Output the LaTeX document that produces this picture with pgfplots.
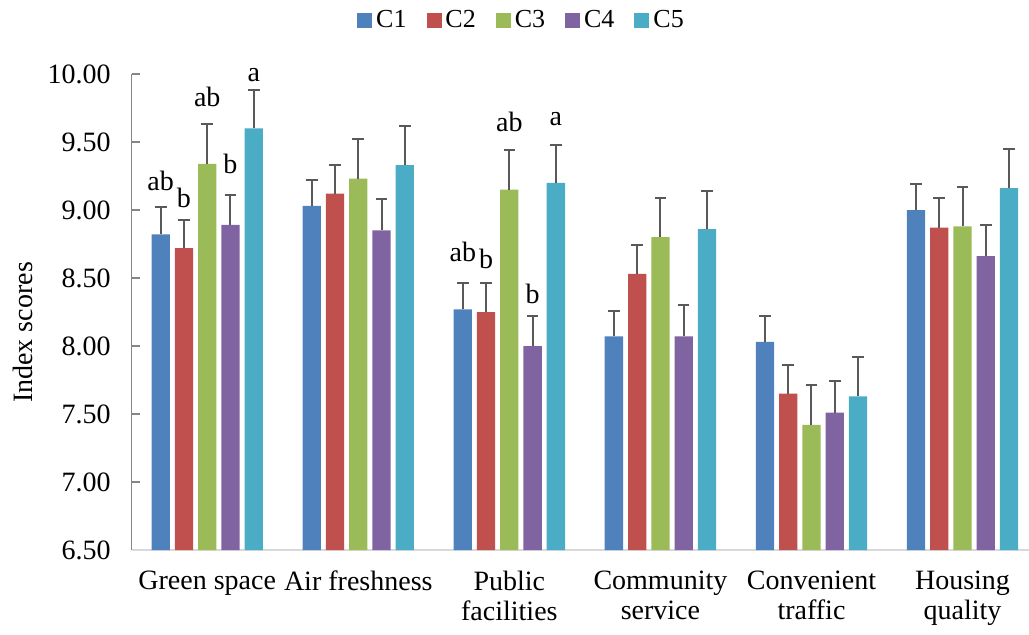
\documentclass[border=0pt]{standalone}
\usepackage{pgfplots}
\pgfplotsset{compat=1.18}
\usepackage{fontspec}
\setmainfont{Liberation Serif}

\definecolor{cA}{HTML}{4F81BD}
\definecolor{cB}{HTML}{C0504D}
\definecolor{cC}{HTML}{9BBB59}
\definecolor{cD}{HTML}{8064A2}
\definecolor{cE}{HTML}{4BACC6}
\definecolor{errgray}{HTML}{595959}
\definecolor{yaxisgray}{HTML}{868686}
\definecolor{xaxisgray}{HTML}{D9D9D9}

\begin{document}
\begin{tikzpicture}
\begin{axis}[
    width=448.65bp, height=238bp, scale only axis,
    ybar, bar width=0.121,
    xmin=-0.5, xmax=5.44,
    ymin=6.5, ymax=10,
    ytick={6.5,7,7.5,8,8.5,9,9.5,10},
    xtick={0,1,2,3,4,5},
    xticklabels={Green space, Air freshness, {Public\\facilities}, {Community\\service}, {Convenient\\traffic}, {Housing\\quality}},
    axis x line*=bottom, axis y line*=left,
    axis line style={-},
    x axis line style={xaxisgray, line width=1bp},
    y axis line style={yaxisgray, line width=0.8bp},
    x tick style={draw=none},
    y tick style={yaxisgray, line width=0.8bp},
    tick align=inside, major tick length=4bp,
    /pgf/number format/assume math mode=true,
    y tick label style={/pgf/number format/fixed, /pgf/number format/fixed zerofill, /pgf/number format/precision=2, font=\fontsize{14bp}{16bp}\selectfont, xshift=-7bp},
    x tick label style={align=center, font=\fontsize{14bp}{15bp}\selectfont, yshift=-7bp},
    ylabel={Index scores},
    ylabel style={at={(rel axis cs:-0.1217,0.457)}, anchor=center, font=\fontsize{14bp}{16bp}\selectfont},
    error bars/y dir=plus, error bars/y explicit,
    error bars/error bar style={errgray, line width=1bp},
    error bars/error mark options={rotate=90, errgray, line width=1bp, mark size=2.9bp},
    legend style={at={(rel axis cs:0.4355,1.1134)}, anchor=center, draw=none, fill=none,
        legend columns=-1, font=\fontsize{13bp}{15bp}\selectfont,
        /tikz/every even column/.append style={column sep=8bp}},
    legend image code/.code={\fill[#1] (0bp,-3.75bp) rectangle (7.5bp,3.75bp);},
    clip=false,
]
% C1
\addplot[fill=cA, draw=none, bar shift=-0.308] coordinates {
    (0,8.82) +- (0,0.20) (1,9.03) +- (0,0.19) (2,8.27) +- (0,0.19)
    (3,8.07) +- (0,0.19) (4,8.03) +- (0,0.19) (5,9.00) +- (0,0.19)};
% C2
\addplot[fill=cB, draw=none, bar shift=-0.154] coordinates {
    (0,8.72) +- (0,0.21) (1,9.12) +- (0,0.21) (2,8.25) +- (0,0.21)
    (3,8.53) +- (0,0.21) (4,7.65) +- (0,0.21) (5,8.87) +- (0,0.22)};
% C3
\addplot[fill=cC, draw=none, bar shift=0] coordinates {
    (0,9.34) +- (0,0.29) (1,9.23) +- (0,0.29) (2,9.15) +- (0,0.29)
    (3,8.80) +- (0,0.29) (4,7.42) +- (0,0.29) (5,8.88) +- (0,0.29)};
% C4
\addplot[fill=cD, draw=none, bar shift=0.154] coordinates {
    (0,8.89) +- (0,0.22) (1,8.85) +- (0,0.23) (2,8.00) +- (0,0.22)
    (3,8.07) +- (0,0.23) (4,7.51) +- (0,0.23) (5,8.66) +- (0,0.23)};
% C5
\addplot[fill=cE, draw=none, bar shift=0.308] coordinates {
    (0,9.60) +- (0,0.28) (1,9.33) +- (0,0.29) (2,9.20) +- (0,0.28)
    (3,8.86) +- (0,0.28) (4,7.63) +- (0,0.29) (5,9.16) +- (0,0.29)};
\legend{C1,C2,C3,C4,C5}

% significance letters
\begin{scope}[every node/.style={anchor=base, inner sep=0pt, font=\fontsize{14bp}{16bp}\selectfont}]
\node at (axis cs:-0.308,9.147) {ab};
\node at (axis cs:-0.154,9.015) {b};
\node at (axis cs:0,9.76) {ab};
\node at (axis cs:0.154,9.27) {b};
\node at (axis cs:0.308,9.943) {a};
\node at (axis cs:1.692,8.618) {ab};
\node at (axis cs:1.846,8.571) {b};
\node at (axis cs:2,9.576) {ab};
\node at (axis cs:2.154,8.314) {b};
\node at (axis cs:2.308,9.625) {a};
\end{scope}
\end{axis}
\pgfresetboundingbox
\path[use as bounding box] (-65.85bp,-42.5bp) rectangle (448.65bp,275bp);
\end{tikzpicture}
\end{document}
